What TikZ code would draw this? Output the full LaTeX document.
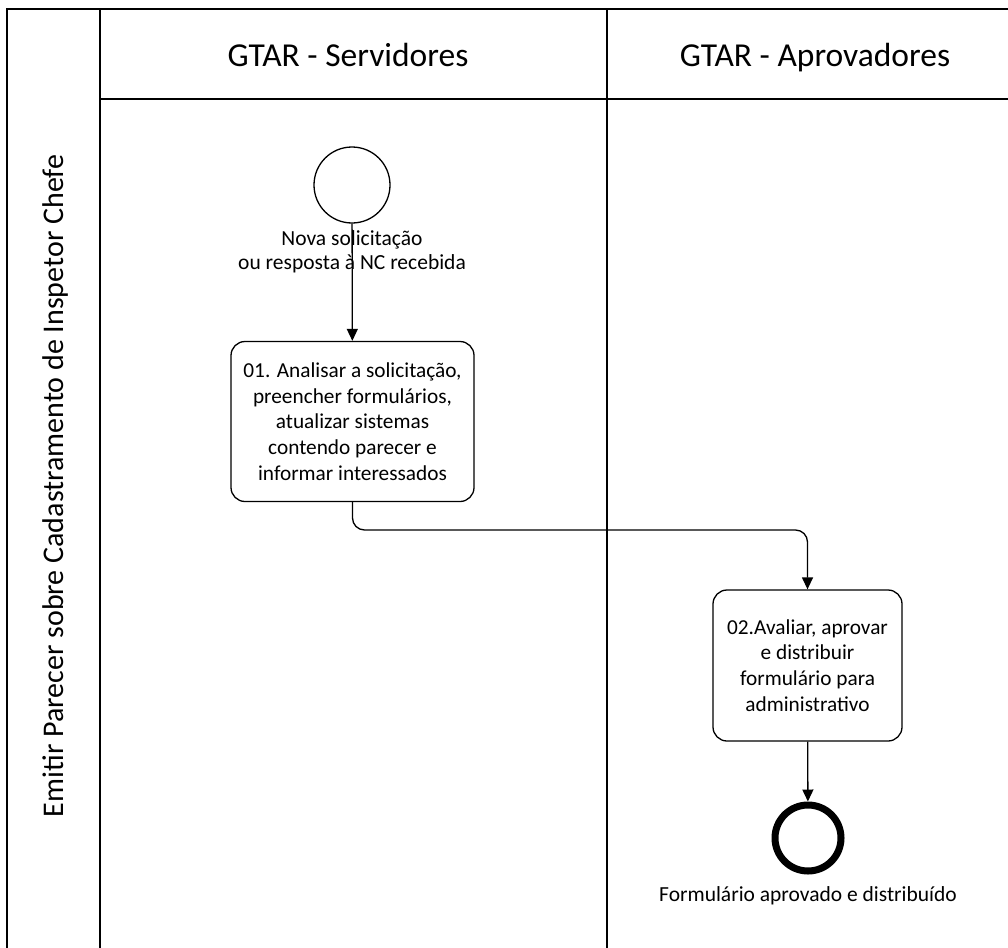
\documentclass[tikz,border=0pt]{standalone}
\usepackage{fontspec}
\setmainfont{Carlito}
\usetikzlibrary{arrows.meta}
\begin{document}
\begin{tikzpicture}[x=1pt,y=-1pt,
  frame/.style={line width=2pt},
  lane/.style={line width=1.5pt},
  task/.style={draw,line width=1.3pt,rounded corners=14pt,align=center,inner sep=0pt,font=\fontsize{21.3}{25.8}\selectfont},
  flow/.style={line width=1.3pt,-{Triangle[length=12pt,width=11pt]}},
  lbl/.style={align=center,font=\fontsize{21.5}{24}\selectfont},
  hdr/.style={font=\fontsize{33.5}{36}\selectfont,anchor=base}]
\useasboundingbox (0,0) rectangle (1008,947);
\begin{scope}
\clip (0,0) rectangle (1008,947);
\draw[frame] (7,960) -- (7,9) -- (1020,9);
\draw[lane] (100,960) -- (100,9);
\draw[lane] (100,99) -- (1020,99);
\draw[lane] (607,9) -- (607,960);
\end{scope}
\node[hdr] (h1) at (348,67) {GTAR - Servidores};
\node[hdr] (h2) at (815,67) {GTAR - Aprovadores};
\node[rotate=90,font=\fontsize{30}{34}\selectfont] (pool) at (56,486) {Emitir Parecer sobre Cadastramento de Inspetor Chefe};
\node[draw,circle,line width=1.3pt,minimum size=76pt,inner sep=0pt] (start) at (352,185) {};
\node[lbl] (startl) at (352,252) {Nova solicitação\\ou resposta à NC recebida};
\node[task,minimum width=243pt,minimum height=160pt] (t1) at (352.5,421.5) {01. Analisar a solicitação,\\preencher formulários,\\atualizar sistemas\\contendo parecer e\\informar interessados};
\node[task,minimum width=189pt,minimum height=151pt] (t2) at (807.5,665.5) {02.Avaliar, aprovar\\e distribuir\\formulário para\\administrativo};
\node[draw,circle,line width=7pt,minimum size=66pt,inner sep=0pt] (end) at (808,838) {};
\node[lbl] (endl) at (808,896) {Formulário aprovado e distribuído};
\draw[flow] (start) -- (t1);
\draw[flow,rounded corners=12pt] (t1.south) |- (600,530) -| (t2.north);
\draw[flow] (t2) -- (end);
\end{tikzpicture}
\end{document}
